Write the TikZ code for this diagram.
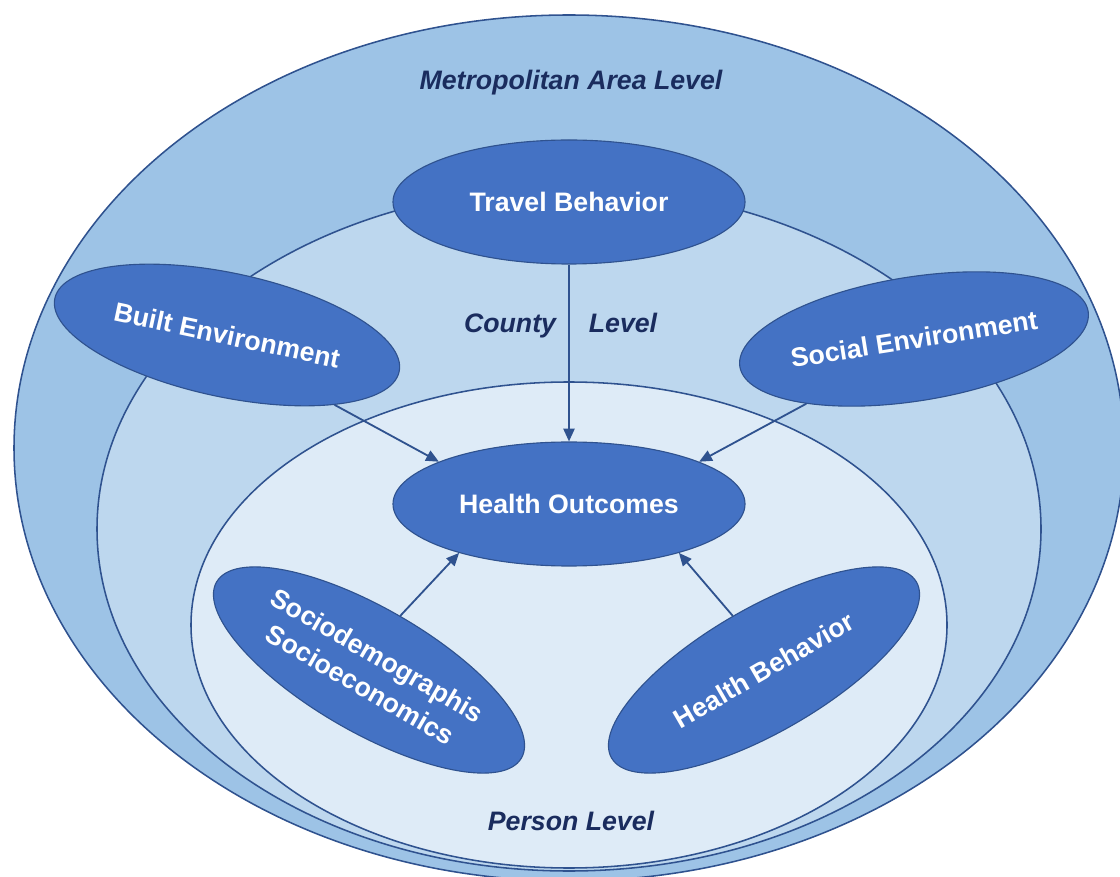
\documentclass[tikz,border=0pt]{standalone}
\usepackage{fontspec}
\setmainfont{Liberation Sans}
\usepackage{xcolor}
\usetikzlibrary{arrows.meta,positioning,shapes.geometric}
\definecolor{hsNavy}{HTML}{1A2C5E}
\definecolor{hsLine}{HTML}{2F528F}
\definecolor{hsBlue}{HTML}{4472C4}
\definecolor{hsMetro}{HTML}{9DC3E6}
\definecolor{hsCounty}{HTML}{BDD7EE}
\definecolor{hsPerson}{HTML}{DEEBF7}
\tikzset{
  zone/.style={ellipse, draw=hsLine, line width=1.1pt, inner sep=0pt},
  factor/.style={ellipse, draw=hsLine, fill=hsBlue, line width=0.8pt,
        minimum width=8.8cm, minimum height=3.1cm, inner sep=0pt,
        align=center, text=white,
        font=\fontsize{19}{24}\selectfont\bfseries},
  infl/.style={-{Triangle[length=3.2mm,width=2.8mm]}, line width=1.3pt, draw=hsLine},
  zlab/.style={anchor=base, font=\fontsize{19}{22}\selectfont\bfseries\itshape, text=hsNavy}
}

\begin{document}
\begin{tikzpicture}
\useasboundingbox (0,0) rectangle (28,21.9);

% nested levels
\node[zone, fill=hsMetro, minimum width=27.75cm, minimum height=21.65cm] (metro) at (14.225,10.7) {};
\node[zone, fill=hsCounty, minimum width=23.6cm, minimum height=17.1cm] (county) at (14.225,8.675) {};
\node[zone, fill=hsPerson, minimum width=18.9cm, minimum height=12.15cm] (person) at (14.225,6.275) {};

% level labels
\node[zlab] (metrolab) at (14.275,19.65) {Metropolitan Area Level};
\node[zlab] (countylab) at (12.75,13.575) {County};
\node[zlab] (countylev) at (15.575,13.575) {Level};
\node[zlab] (personlab) at (14.275,1.15) {Person Level};

% factors
\node[factor] (tb) at (14.225,16.85) {Travel Behavior};
\node[factor, rotate=-12] (be) at (5.675,13.525) {Built Environment};
\node[factor, rotate=9] (se) at (22.85,13.425) {Social Environment};
\node[factor] (ho) at (14.225,9.3) {Health Outcomes};
\node[factor, rotate=-30] (sd) at (9.225,5.15) {Sociodemographis\\Socioeconomics};
\node[factor, rotate=30] (hb) at (19.1,5.15) {Health Behavior};

% influences on health outcomes
\draw[infl] (tb.south) -- (ho.north);
\draw[infl] (be.-21) -- (ho.162);
\draw[infl] (se.-158) -- (ho.18);
\draw[infl] (sd.north) -- (ho.-156);
\draw[infl] (hb.north) -- (ho.-24);
\end{tikzpicture}
\end{document}
